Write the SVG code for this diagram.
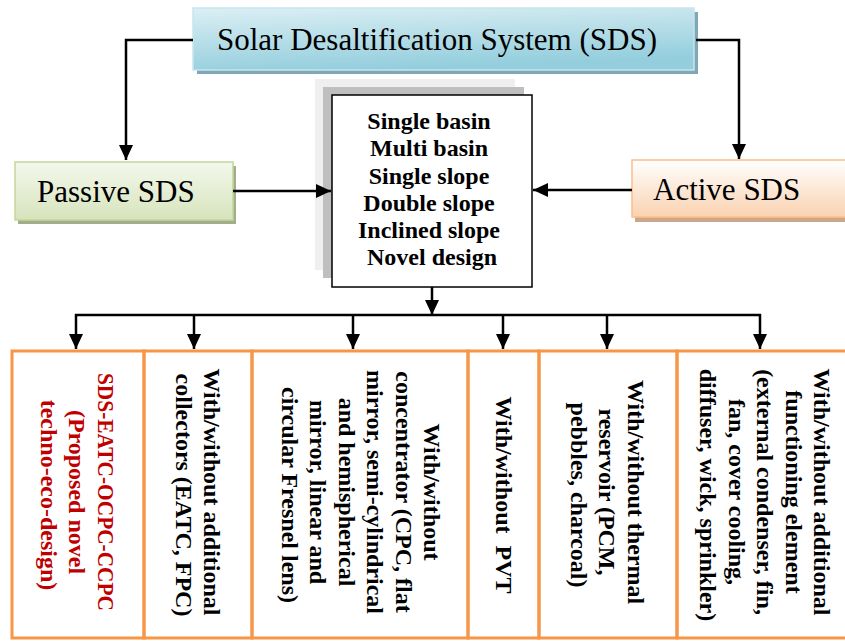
<svg xmlns="http://www.w3.org/2000/svg" width="845" height="641" viewBox="0 0 845 641">
<style>
.t{font-family:"Liberation Serif","Times New Roman",serif;fill:#000}
.big{font-size:31px}
.b{font-size:24px;font-weight:bold}
.red{fill:#C00000}
.col{fill:none;stroke:#F79646;stroke-width:3}
.con{fill:none;stroke:#000;stroke-width:2.5}
</style>
<defs>
<linearGradient id="gBlue" x1="0" y1="0" x2="0.3" y2="1">
<stop offset="0" stop-color="#DCEFF4"/><stop offset="1" stop-color="#94CEDD"/>
</linearGradient>
<linearGradient id="gGreen" x1="0" y1="0" x2="0" y2="1">
<stop offset="0" stop-color="#F4F8EC"/><stop offset="1" stop-color="#D6E4BC"/>
</linearGradient>
<linearGradient id="gOrange" x1="0" y1="0" x2="0" y2="1">
<stop offset="0" stop-color="#FFFFFF"/><stop offset="1" stop-color="#FAD2B0"/>
</linearGradient>
<marker id="arr" viewBox="0 0 15 14" refX="15" refY="7" markerWidth="15" markerHeight="14" markerUnits="userSpaceOnUse" orient="auto">
<path d="M0,0 L15,7 L0,14 z" fill="#000"/>
</marker>
</defs>

<g id="sds">
<rect x="197" y="12" width="501" height="62" fill="#7FA8B6"/>
<rect x="193" y="8" width="501" height="62" fill="url(#gBlue)" stroke="#C8E5EE" stroke-width="1.5"/>
<text class="t big" x="437" y="50" text-anchor="middle">Solar Desaltification System (SDS)</text>
</g>

<g id="passive">
<rect x="18" y="166" width="218" height="58" fill="#A2AD8C"/>
<rect x="15" y="162" width="218" height="58" fill="url(#gGreen)" stroke="#C3D69B" stroke-width="1.5"/>
<text class="t big" x="37" y="202">Passive SDS</text>
</g>

<g id="active">
<rect x="635" y="164" width="215" height="58" fill="#CDA688"/>
<rect x="632" y="160" width="218" height="57" fill="url(#gOrange)" stroke="#FABF8F" stroke-width="1.5"/>
<text class="t big" x="653" y="200">Active SDS</text>
</g>

<g id="types">
<rect x="315" y="79" width="200" height="191" fill="#EFEFEF"/>
<rect x="323" y="87" width="201" height="191" fill="#BFBFBF"/>
<rect x="332" y="95" width="200" height="192" fill="#FFFFFF" stroke="#000" stroke-width="1.5"/>
<text class="t b" text-anchor="middle">
<tspan x="432" y="129">Single basin</tspan>
<tspan x="432" y="156">Multi basin</tspan>
<tspan x="432" y="183.5">Single slope</tspan>
<tspan x="432" y="211">Double slope</tspan>
<tspan x="432" y="238">Inclined slope</tspan>
<tspan x="432" y="265">Novel design</tspan>
</text>
</g>

<g id="connectors">
<polyline class="con" points="193,40 126,40 126,160" marker-end="url(#arr)"/>
<polyline class="con" points="696,40 739,40 739,159" marker-end="url(#arr)"/>
<line class="con" x1="233" y1="191" x2="331" y2="191" marker-end="url(#arr)"/>
<line class="con" x1="632" y1="190" x2="533" y2="190" marker-end="url(#arr)"/>
<line class="con" x1="432" y1="287" x2="432" y2="315" marker-end="url(#arr)"/>
<line class="con" x1="75" y1="315" x2="761" y2="315"/>
<line class="con" x1="76" y1="314" x2="76" y2="349" marker-end="url(#arr)"/>
<line class="con" x1="194" y1="314" x2="194" y2="349" marker-end="url(#arr)"/>
<line class="con" x1="353" y1="314" x2="353" y2="349" marker-end="url(#arr)"/>
<line class="con" x1="503" y1="314" x2="503" y2="349" marker-end="url(#arr)"/>
<line class="con" x1="607" y1="314" x2="607" y2="349" marker-end="url(#arr)"/>
<line class="con" x1="760" y1="314" x2="760" y2="349" marker-end="url(#arr)"/>
</g>

<g id="col1">
<rect class="col" x="12" y="351" width="132" height="287"/>
<text class="t b red" text-anchor="middle" transform="translate(77,495) rotate(90)">
<tspan x="0" y="-20.5" textLength="238" lengthAdjust="spacingAndGlyphs">SDS-EATC-OCPC-CCPC</tspan>
<tspan x="0" y="8">(Proposed novel</tspan>
<tspan x="0" y="36.5">techno-eco-design)</tspan>
</text>
</g>

<g id="col2">
<rect class="col" x="144" y="351" width="108" height="287"/>
<text class="t b" text-anchor="middle" transform="translate(198,495) rotate(90)">
<tspan x="0" y="-6.25">With/without additional</tspan>
<tspan x="0" y="22.25">collectors (EATC, FPC)</tspan>
</text>
</g>

<g id="col3">
<rect class="col" x="252" y="351" width="216" height="287"/>
<text class="t b" text-anchor="middle" transform="translate(361,495) rotate(90)">
<tspan x="0" y="-63.25">With/without</tspan>
<tspan x="0" y="-34.75">concentrator (CPC, flat</tspan>
<tspan x="0" y="-6.25">mirror, semi-cylindrical</tspan>
<tspan x="0" y="22.25">and hemispherical</tspan>
<tspan x="0" y="50.75">mirror, linear and</tspan>
<tspan x="0" y="79.25">circular Fresnel lens)</tspan>
</text>
</g>

<g id="col4">
<rect class="col" x="468" y="351" width="71" height="287"/>
<text class="t b" text-anchor="middle" transform="translate(503.5,495) rotate(90)" xml:space="preserve"><tspan x="0" y="8">With/without  PVT</tspan></text>
</g>

<g id="col5">
<rect class="col" x="539" y="351" width="138" height="287"/>
<text class="t b" text-anchor="middle" transform="translate(607,495) rotate(90)">
<tspan x="0" y="-20.5">With/without thermal</tspan>
<tspan x="0" y="8">reservoir (PCM,</tspan>
<tspan x="0" y="36.5">pebbles, charcoal)</tspan>
</text>
</g>

<g id="col6">
<rect class="col" x="677" y="351" width="180" height="287"/>
<text class="t b" text-anchor="middle" transform="translate(765,495) rotate(90)">
<tspan x="0" y="-49">With/without additional</tspan>
<tspan x="0" y="-20.5">functioning element</tspan>
<tspan x="0" y="8">(external condenser, fin,</tspan>
<tspan x="0" y="36.5">fan, cover cooling,</tspan>
<tspan x="0" y="65">diffuser, wick, sprinkler)</tspan>
</text>
</g>
</svg>
